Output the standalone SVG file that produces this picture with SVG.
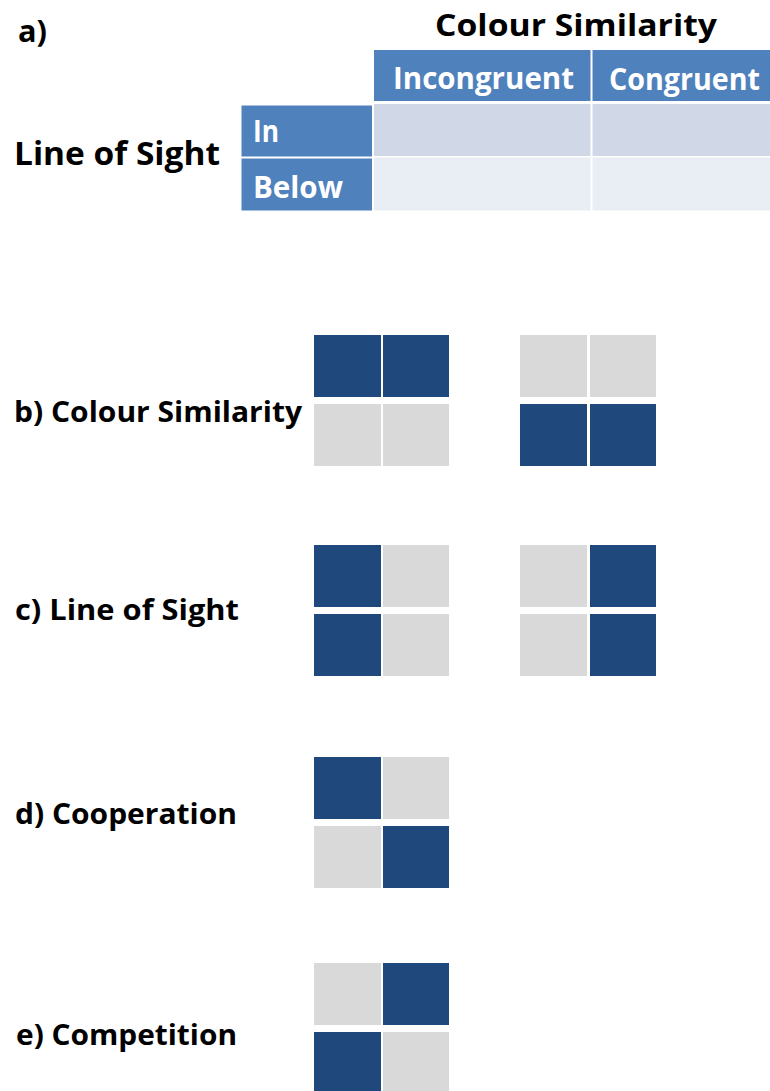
<svg xmlns="http://www.w3.org/2000/svg" width="770" height="1091" viewBox="0 0 770 1091">
<style>
.lbl{font-family:"Open Sans","Liberation Sans",sans-serif;font-weight:bold;fill:#000}
.wt{font-family:"Open Sans","Liberation Sans",sans-serif;font-weight:bold;fill:#fff}
.hd{fill:#4F81BD}
.r1{fill:#D0D8E8}
.r2{fill:#E9EDF4}
.dk{fill:#1F497D}
.lg{fill:#D9D9D9}
</style>
<rect width="770" height="1091" fill="#fff"/>
<g id="panel-a">
<text class="lbl" x="18" y="42" font-size="30" textLength="29" lengthAdjust="spacingAndGlyphs">a)</text>
<text class="lbl" x="435" y="36" font-size="31" textLength="282" lengthAdjust="spacingAndGlyphs">Colour Similarity</text>
<text class="lbl" x="14" y="165" font-size="32" textLength="206" lengthAdjust="spacingAndGlyphs">Line of Sight</text>
<g id="table">
<rect class="hd" x="374" y="50" width="216.5" height="51"/>
<rect class="hd" x="592.5" y="50" width="177.5" height="51"/>
<rect class="hd" x="241.5" y="105.5" width="130.5" height="51"/>
<rect class="hd" x="241.5" y="158.5" width="130.5" height="52"/>
<rect class="r1" x="374" y="104" width="216.5" height="52"/>
<rect class="r1" x="592.5" y="104" width="177.5" height="52"/>
<rect class="r2" x="374" y="157.5" width="216.5" height="53"/>
<rect class="r2" x="592.5" y="157.5" width="177.5" height="53"/>
<text class="wt" x="393" y="89" font-size="31" textLength="181" lengthAdjust="spacingAndGlyphs">Incongruent</text>
<text class="wt" x="609" y="90" font-size="31" textLength="151" lengthAdjust="spacingAndGlyphs">Congruent</text>
<text class="wt" x="253" y="142" font-size="30" textLength="26" lengthAdjust="spacingAndGlyphs">In</text>
<text class="wt" x="253" y="198" font-size="30" textLength="90" lengthAdjust="spacingAndGlyphs">Below</text>
</g>
</g>
<g id="panel-b">
<text class="lbl" x="14" y="422" font-size="28" textLength="288" lengthAdjust="spacingAndGlyphs">b) Colour Similarity</text>
<g id="grid-b1">
<rect class="dk" x="314" y="335" width="67" height="62"/>
<rect class="dk" x="383" y="335" width="66" height="62"/>
<rect class="lg" x="314" y="404" width="67" height="62"/>
<rect class="lg" x="383" y="404" width="66" height="62"/>
</g>
<g id="grid-b2">
<rect class="lg" x="520" y="335" width="67" height="62"/>
<rect class="lg" x="590" y="335" width="66" height="62"/>
<rect class="dk" x="520" y="404" width="67" height="62"/>
<rect class="dk" x="590" y="404" width="66" height="62"/>
</g>
</g>
<g id="panel-c">
<text class="lbl" x="15" y="620" font-size="28" textLength="224" lengthAdjust="spacingAndGlyphs">c) Line of Sight</text>
<g id="grid-c1">
<rect class="dk" x="314" y="545" width="67" height="62"/>
<rect class="lg" x="383" y="545" width="66" height="62"/>
<rect class="dk" x="314" y="614" width="67" height="62"/>
<rect class="lg" x="383" y="614" width="66" height="62"/>
</g>
<g id="grid-c2">
<rect class="lg" x="520" y="545" width="67" height="62"/>
<rect class="dk" x="590" y="545" width="66" height="62"/>
<rect class="lg" x="520" y="614" width="67" height="62"/>
<rect class="dk" x="590" y="614" width="66" height="62"/>
</g>
</g>
<g id="panel-d">
<text class="lbl" x="15" y="824" font-size="28" textLength="222" lengthAdjust="spacingAndGlyphs">d) Cooperation</text>
<g id="grid-d">
<rect class="dk" x="314" y="757" width="67" height="62"/>
<rect class="lg" x="383" y="757" width="66" height="62"/>
<rect class="lg" x="314" y="826" width="67" height="62"/>
<rect class="dk" x="383" y="826" width="66" height="62"/>
</g>
</g>
<g id="panel-e">
<text class="lbl" x="16" y="1045" font-size="28" textLength="221" lengthAdjust="spacingAndGlyphs">e) Competition</text>
<g id="grid-e">
<rect class="lg" x="314" y="963" width="67" height="62"/>
<rect class="dk" x="383" y="963" width="66" height="62"/>
<rect class="dk" x="314" y="1032" width="67" height="62"/>
<rect class="lg" x="383" y="1032" width="66" height="62"/>
</g>
</g>
</svg>
